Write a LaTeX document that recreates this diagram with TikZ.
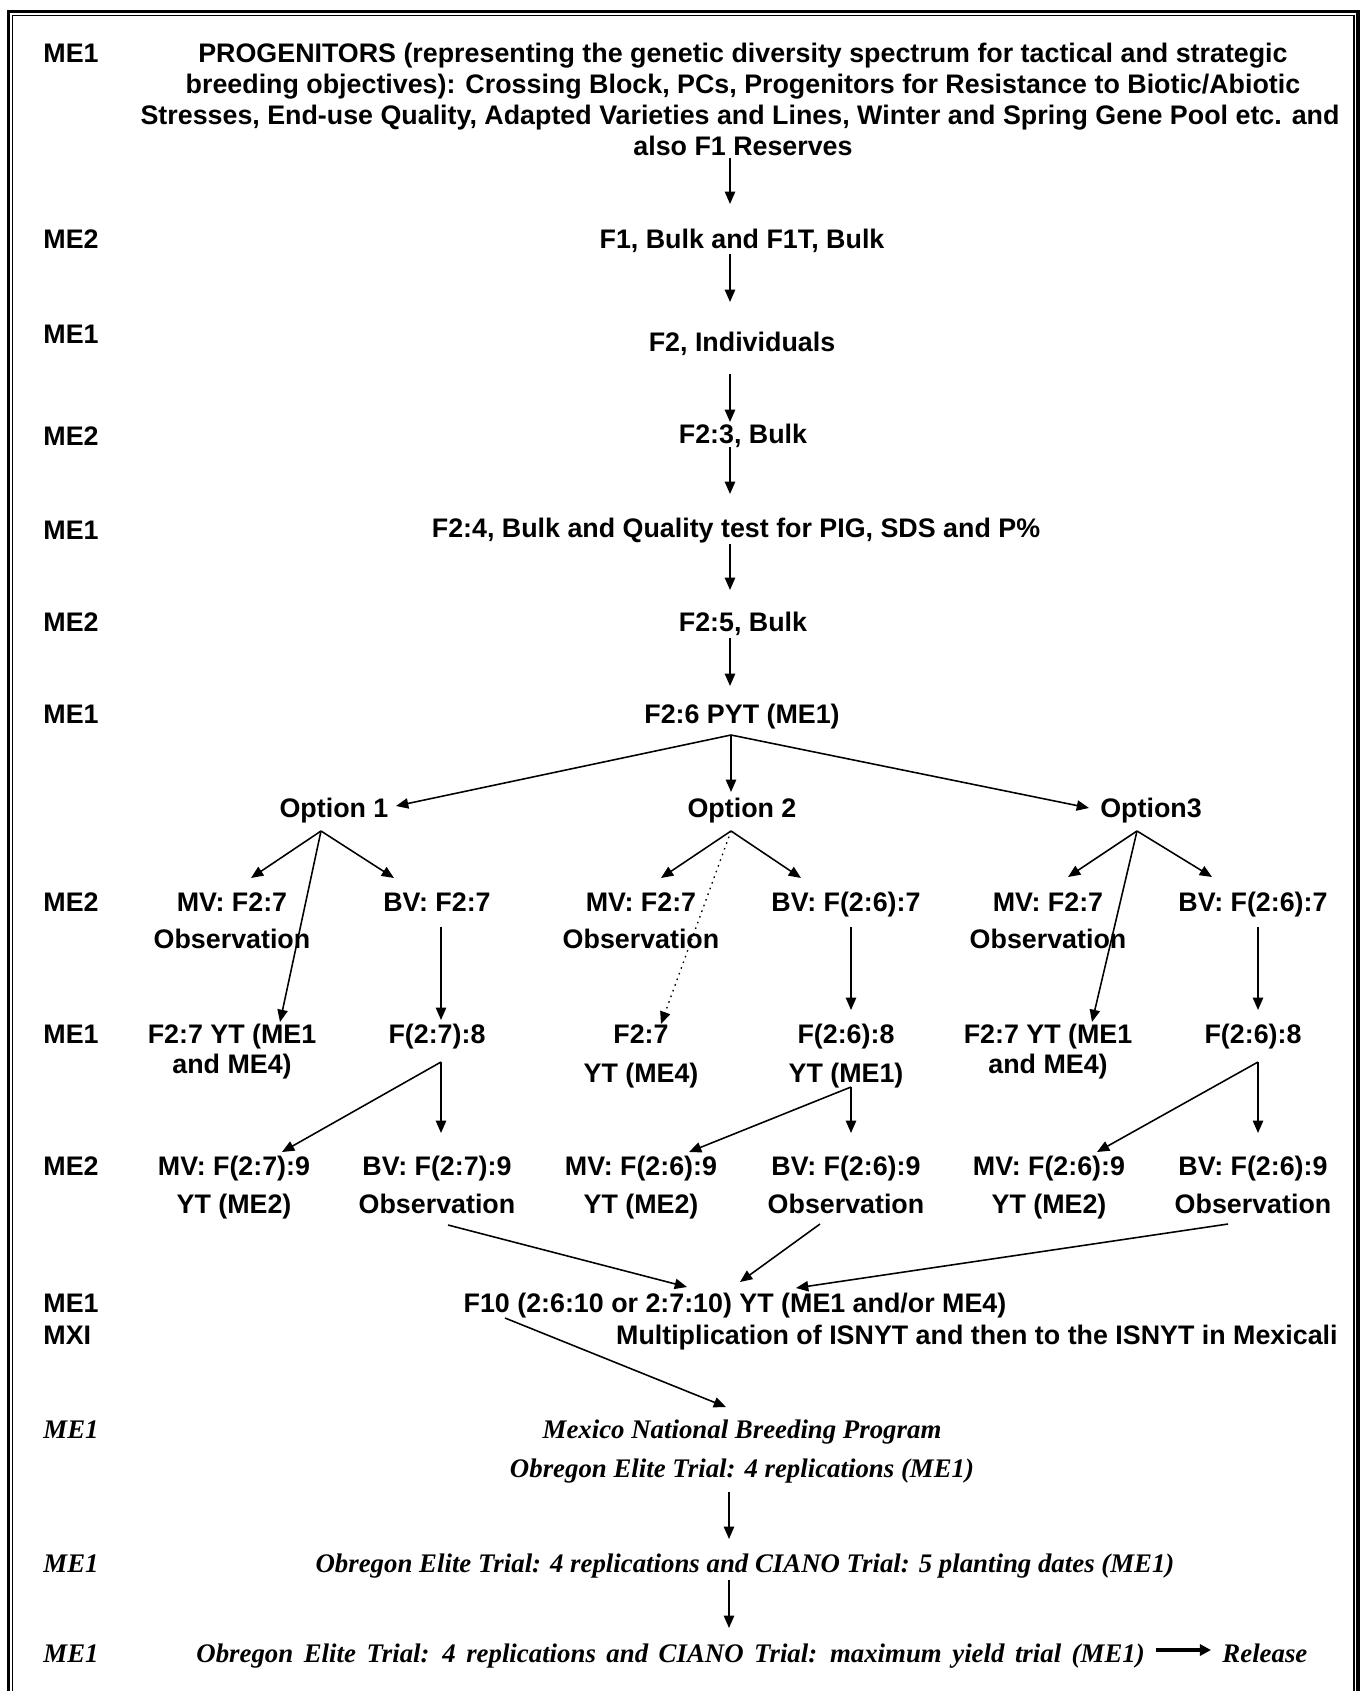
\documentclass[tikz,border=0pt]{standalone}
\usepackage{fontspec}
\setmainfont{Liberation Sans}
\newfontfamily\tnrfont{Liberation Serif}
\usetikzlibrary{arrows.meta}
\begin{document}
\begin{tikzpicture}[x=0.4473pt,y=-0.4473pt,
  lbl/.style={anchor=base west,inner sep=0pt,font=\fontsize{12pt}{14pt}\selectfont\bfseries},
  txt/.style={anchor=base,inner sep=0pt,font=\fontsize{12pt}{14pt}\selectfont\bfseries},
  itl/.style={anchor=base,inner sep=0pt,font=\fontsize{12pt}{14pt}\selectfont\tnrfont\bfseries\itshape},
  itlw/.style={itl,anchor=base west},
  arr/.style={-{Triangle[length=5.5pt,width=4.6pt]},line width=0.7pt},
  dotarr/.style={arr,dotted,line width=0.6pt},
  bigarr/.style={-{Triangle[length=5pt,width=5pt]},line width=1.4pt},
]
\useasboundingbox (0,0) rectangle (1369,1691);
% page border (thick outer, thin inner)
\draw[line width=1.4pt] (8.5,1700) -- (8.5,11.3) -- (1358,11.3) -- (1358,1700);
\draw[line width=0.6pt] (12.8,1700) -- (12.8,15.5) -- (1354,15.5) -- (1354,1700);

% left labels
\node[lbl] (m1) at (43,63) {ME1};
\node[lbl] (m2) at (43,249) {ME2};
\node[lbl] (m3) at (43,343) {ME1};
\node[lbl] (m4) at (43,445) {ME2};
\node[lbl] (m5) at (43,539) {ME1};
\node[lbl] (m6) at (43,631) {ME2};
\node[lbl] (m7) at (43,723) {ME1};
\node[lbl] (m8) at (43,911) {ME2};
\node[lbl] (m9) at (43,1043) {ME1};
\node[lbl] (m10) at (43,1175) {ME2};
\node[lbl] (m11) at (43,1312) {ME1};
\node[lbl] (m12) at (43,1344) {MXI};
\node[itlw] (m13) at (43,1438) {ME1};
\node[itlw] (m14) at (43,1572) {ME1};
\node[itlw] (m15) at (43,1662) {ME1};

% top paragraph
\node[txt] (p1) at (743,63) {PROGENITORS (representing the genetic diversity spectrum for tactical and strategic};
\node[txt] (p2) at (743,94) {breeding objectives): Crossing Block, PCs, Progenitors for Resistance to Biotic/Abiotic};
\node[txt] (p3) at (740,125) {Stresses, End-use Quality, Adapted Varieties and Lines, Winter and Spring Gene Pool etc. and};
\node[txt] (p4) at (743,156) {also F1 Reserves};

% main column
\node[txt] (f1) at (742,249) {F1, Bulk and F1T, Bulk};
\node[txt] (f2) at (742,351) {F2, Individuals};
\node[txt] (f23) at (743,443) {F2:3, Bulk};
\node[txt] (f24) at (736,537) {F2:4, Bulk and Quality test for PIG, SDS and P\%};
\node[txt] (f25) at (743,631) {F2:5, Bulk};
\node[txt] (f26) at (742,723) {F2:6 PYT (ME1)};
\node[txt] (op1) at (334,817) {Option 1};
\node[txt] (op2) at (742,817) {Option 2};
\node[txt] (op3) at (1151,817) {Option3};

% row MV/BV 7
\node[txt] (mv1) at (232,911) {MV: F2:7};
\node[txt] (mv1b) at (232,948) {Observation};
\node[txt] (bv1) at (437,911) {BV: F2:7};
\node[txt] (mv2) at (641,911) {MV: F2:7};
\node[txt] (mv2b) at (641,948) {Observation};
\node[txt] (bv2) at (846,911) {BV: F(2:6):7};
\node[txt] (mv3) at (1048,911) {MV: F2:7};
\node[txt] (mv3b) at (1048,948) {Observation};
\node[txt] (bv3) at (1253,911) {BV: F(2:6):7};

% row 8
\node[txt] (yt1) at (232,1043) {F2:7 YT (ME1};
\node[txt] (yt1b) at (232,1073) {and ME4)};
\node[txt] (e1) at (437,1043) {F(2:7):8};
\node[txt] (yt2) at (641,1043) {F2:7};
\node[txt] (yt2b) at (641,1082) {YT (ME4)};
\node[txt] (e2) at (846,1043) {F(2:6):8};
\node[txt] (e2b) at (846,1082) {YT (ME1)};
\node[txt] (yt3) at (1048,1043) {F2:7 YT (ME1};
\node[txt] (yt3b) at (1048,1073) {and ME4)};
\node[txt] (e3) at (1253,1043) {F(2:6):8};

% row 9
\node[txt] (n1) at (234,1175) {MV: F(2:7):9};
\node[txt] (n1b) at (234,1213) {YT (ME2)};
\node[txt] (b1) at (437,1175) {BV: F(2:7):9};
\node[txt] (b1b) at (437,1213) {Observation};
\node[txt] (n2) at (641,1175) {MV: F(2:6):9};
\node[txt] (n2b) at (641,1213) {YT (ME2)};
\node[txt] (b2) at (846,1175) {BV: F(2:6):9};
\node[txt] (b2b) at (846,1213) {Observation};
\node[txt] (n3) at (1049,1175) {MV: F(2:6):9};
\node[txt] (n3b) at (1049,1213) {YT (ME2)};
\node[txt] (b3) at (1253,1175) {BV: F(2:6):9};
\node[txt] (b3b) at (1253,1213) {Observation};

% F10 and after
\node[txt] (f10) at (735,1312) {F10 (2:6:10 or 2:7:10) YT (ME1 and/or ME4)};
\node[txt,anchor=base east] (mxi) at (1338,1344) {Multiplication of ISNYT and then to the ISNYT in Mexicali};
\node[itl] (mex) at (742,1438) {Mexico National Breeding Program};
\node[itl] (ob1) at (742,1477) {Obregon Elite Trial: 4 replications (ME1)};
\node[itl] (ob2) at (745,1572) {Obregon Elite Trial: 4 replications and CIANO Trial: 5 planting dates (ME1)};
\node[itlw] (ob3) at (196,1662) {\spaceskip=4.7pt plus 0pt minus 0pt Obregon Elite Trial: 4 replications and CIANO Trial: maximum yield trial (ME1)};
\node[itlw] (rel) at (1222,1662) {Release};

% connector end points
\coordinate (s1) at (730,158); \coordinate (t1) at (730,204);
\coordinate (s2) at (730,254); \coordinate (t2) at (730,302);
\coordinate (s3) at (730,374); \coordinate (t3) at (730,422);
\coordinate (s4) at (730,447); \coordinate (t4) at (730,494);
\coordinate (s5) at (730,544); \coordinate (t5) at (730,590);
\coordinate (s6) at (730,638); \coordinate (t6) at (730,686);
\coordinate (s7) at (731,735);
\coordinate (to1) at (396,806); \coordinate (to2) at (731,792); \coordinate (to3) at (1089,808);
\coordinate (so1) at (321,831); \coordinate (so2) at (731,831); \coordinate (so3) at (1137,831);
\coordinate (tmv1) at (251,878); \coordinate (tbv1) at (394,878); \coordinate (tyt1) at (280,1022);
\coordinate (tmv2) at (661,878); \coordinate (tbv2) at (801,878); \coordinate (tyt2) at (661,1024);
\coordinate (tmv3) at (1068,877); \coordinate (tbv3) at (1212,877); \coordinate (tyt3) at (1092,1022);
\coordinate (sb1) at (441,927); \coordinate (te1) at (441,1020);
\coordinate (sb2) at (851,927); \coordinate (te2) at (851,1010);
\coordinate (sb3) at (1258,927); \coordinate (te3) at (1258,1010);
\coordinate (se1) at (441,1062); \coordinate (tb1) at (441,1133); \coordinate (tn1) at (282,1152);
\coordinate (se2) at (851,1087); \coordinate (tb2) at (851,1133); \coordinate (tn2) at (689,1152);
\coordinate (se3) at (1258,1062); \coordinate (tb3) at (1258,1133); \coordinate (tn3) at (1097,1152);
\coordinate (sf1) at (448,1225); \coordinate (tf1) at (687,1287);
\coordinate (sf2) at (820,1224); \coordinate (tf2) at (740,1282);
\coordinate (sf3) at (1228,1224); \coordinate (tf3) at (796,1288);
\coordinate (sg) at (505,1318); \coordinate (tg) at (726,1407);
\coordinate (sh1) at (729,1492); \coordinate (th1) at (729,1539);
\coordinate (sh2) at (729,1580); \coordinate (th2) at (729,1628);
\coordinate (sr) at (1156,1650); \coordinate (tr) at (1211,1650);

% connectors
\draw[arr] (s1) -- (t1);
\draw[arr] (s2) -- (t2);
\draw[arr] (s3) -- (t3);
\draw[arr] (s4) -- (t4);
\draw[arr] (s5) -- (t5);
\draw[arr] (s6) -- (t6);
\draw[arr] (s7) -- (to1);
\draw[arr] (s7) -- (to2);
\draw[arr] (s7) -- (to3);
\draw[arr] (so1) -- (tmv1);
\draw[arr] (so1) -- (tbv1);
\draw[arr] (so1) -- (tyt1);
\draw[arr] (so2) -- (tmv2);
\draw[arr] (so2) -- (tbv2);
\draw[dotarr] (so2) -- (tyt2);
\draw[arr] (so3) -- (tmv3);
\draw[arr] (so3) -- (tbv3);
\draw[arr] (so3) -- (tyt3);
\draw[arr] (sb1) -- (te1);
\draw[arr] (sb2) -- (te2);
\draw[arr] (sb3) -- (te3);
\draw[arr] (se1) -- (tb1);
\draw[arr] (se1) -- (tn1);
\draw[arr] (se2) -- (tb2);
\draw[arr] (se2) -- (tn2);
\draw[arr] (se3) -- (tb3);
\draw[arr] (se3) -- (tn3);
\draw[arr] (sf1) -- (tf1);
\draw[arr] (sf2) -- (tf2);
\draw[arr] (sf3) -- (tf3);
\draw[arr] (sg) -- (tg);
\draw[arr] (sh1) -- (th1);
\draw[arr] (sh2) -- (th2);
\draw[bigarr] (sr) -- (tr);
\end{tikzpicture}
\end{document}
